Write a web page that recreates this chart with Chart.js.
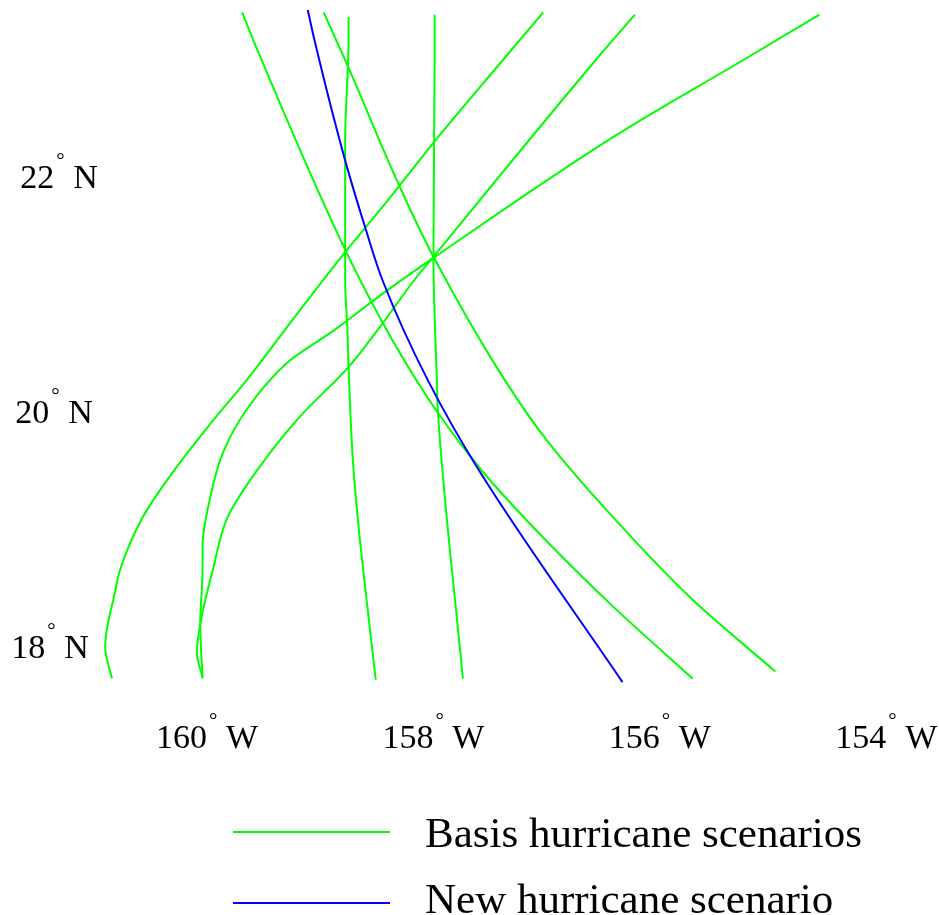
<!DOCTYPE html>
<html>
<head>
<meta charset="utf-8">
<title>Hurricane scenarios</title>
<script src="https://cdn.jsdelivr.net/npm/chart.js@4.4.1/dist/chart.umd.min.js"></script>
<style>
  html, body { margin: 0; padding: 0; background: #fff; }
  #wrap { width: 939px; height: 915px; position: relative; }
</style>
</head>
<body>
<div id="wrap"><canvas id="mapa"></canvas></div>
<script>
// ==============================
// DATA (longitude as negative = west, latitude north)
// ==============================
const lonTicks = [-160, -158, -156, -154];
const latTicks = [22, 20, 18];

const legendLabels = ["Basis hurricane scenarios", "New hurricane scenario"];

// new scenario (blue)
const newLon = [-159.11, -159.05, -158.78, -158.60, -158.45, -158.05, -157.59, -156.33];
const newLat = [23.43, 23.17, 22.15, 21.57, 21.13, 20.28, 19.50, 17.71];

// basis scenarios (green)
const basis1Lon = [-159.69, -159.59, -158.78, -158.38, -157.96, -157.59, -157.15, -156.41, -155.71];
const basis1Lat = [23.41, 23.17, 21.39, 20.65, 20.00, 19.53, 19.06, 18.35, 17.74];

const basis2Lon = [-158.97, -158.76, -158.30, -158.00, -157.37, -157.00, -156.41, -155.71, -154.98];
const basis2Lat = [23.41, 22.96, 21.93, 21.33, 20.28, 19.77, 19.11, 18.41, 17.80];

const basis3Lon = [-158.75, -158.75, -158.78, -158.78, -158.76, -158.75, -158.71, -158.66, -158.62, -158.51];
const basis3Lat = [23.37, 23.17, 22.32, 21.13, 20.71, 20.39, 19.57, 19.02, 18.66, 17.73];

const basis4Lon = [-157.99, -157.99, -158.00, -157.97, -157.96, -157.74];
const basis4Lat = [23.39, 23.00, 21.33, 20.28, 20.00, 17.74];

const basis5Lon = [-160.84, -160.90, -160.81, -160.77, -160.57, -160.33, -159.97, -159.65, -159.31, -158.78, -158.47, -158.00, -157.39, -157.03];
const basis5Lat = [17.74, 18.01, 18.49, 18.66, 19.11, 19.46, 19.91, 20.28, 20.71, 21.37, 21.73, 22.30, 23.00, 23.41];

const basis6Lon = [-160.04, -160.06, -160.04, -160.04, -159.97, -159.86, -159.65, -159.29, -158.87, -158.40, -158.00, -156.41, -155.27, -154.59];
const basis6Lat = [17.74, 18.21, 18.66, 18.86, 19.29, 19.66, 20.03, 20.43, 20.71, 21.05, 21.32, 22.35, 23.00, 23.39];

const basis7Lon = [-160.04, -160.09, -160.04, -159.95, -159.82, -159.56, -159.18, -158.76, -158.49, -158.17, -158.00, -156.57, -156.22];
const basis7Lat = [17.75, 17.96, 18.30, 18.66, 19.11, 19.51, 19.97, 20.38, 20.71, 21.13, 21.33, 23.00, 23.39];

// ==============================
// HELPERS
// ==============================
const $ = (id) => document.getElementById(id);
const GREEN = "#00ff00";
const BLUE = "#0000ff";
const SERIF = '"Liberation Serif", "Times New Roman", serif';

function pares(lons, lats){
  return lons.map((x, i) => ({ x, y: lats[i] }));
}

// tracks are monotone in latitude, so a monotone spline along y keeps them smooth
function trilha(lons, lats, cor){
  return {
    data: pares(lons, lats),
    borderColor: cor,
    borderWidth: 2,
    pointRadius: 0,
    cubicInterpolationMode: "monotone",
    fill: false
  };
}

// "160° W" with a small raised degree sign, centred on cx
function rotuloGrau(ctx, numero, letra, cx, base){
  ctx.font = `34px ${SERIF}`;
  const wNum = ctx.measureText(numero).width;
  const wLet = ctx.measureText(" " + letra).width;
  ctx.font = `21px ${SERIF}`;
  const wGrau = ctx.measureText("°").width;
  const total = wNum + 2 + wGrau + wLet;
  let x = cx - total / 2;

  ctx.textAlign = "left";
  ctx.textBaseline = "alphabetic";
  ctx.font = `34px ${SERIF}`;
  ctx.fillText(numero, x, base);
  x += wNum + 2;
  ctx.font = `21px ${SERIF}`;
  ctx.fillText("°", x, base - 21);
  x += wGrau;
  ctx.font = `34px ${SERIF}`;
  ctx.fillText(" " + letra, x, base);
}

// ==============================
// LABELS + LEGEND
// ==============================
const yLabelX = [59, 54, 50];

const rotulosPlugin = {
  id: "rotulos",
  afterDraw(chart){
    const { ctx, scales } = chart;
    ctx.save();
    ctx.fillStyle = "#000";

    lonTicks.forEach(v => {
      const px = scales.x.getPixelForValue(v);
      rotuloGrau(ctx, String(-v), "W", px, 748);
    });

    latTicks.forEach((v, i) => {
      const py = scales.y.getPixelForValue(v);
      rotuloGrau(ctx, String(v), "N", yLabelX[i], py + 10);
    });

    // legend
    const itens = [
      { cor: GREEN, y: 832, base: 847 },
      { cor: BLUE, y: 903, base: 913 }
    ];
    itens.forEach((it, i) => {
      ctx.strokeStyle = it.cor;
      ctx.lineWidth = 2;
      ctx.beginPath();
      ctx.moveTo(233, it.y);
      ctx.lineTo(390, it.y);
      ctx.stroke();
      ctx.font = `43px ${SERIF}`;
      ctx.textAlign = "left";
      ctx.textBaseline = "alphabetic";
      ctx.fillText(legendLabels[i], 425, it.base);
    });

    ctx.restore();
  }
};

// ==============================
// CHART
// ==============================
new Chart($("mapa"), {
  type: "line",
  data: {
    datasets: [
      trilha(newLon, newLat, BLUE),
      trilha(basis1Lon, basis1Lat, GREEN),
      trilha(basis2Lon, basis2Lat, GREEN),
      trilha(basis3Lon, basis3Lat, GREEN),
      trilha(basis4Lon, basis4Lat, GREEN),
      trilha(basis5Lon, basis5Lat, GREEN),
      trilha(basis6Lon, basis6Lat, GREEN),
      trilha(basis7Lon, basis7Lat, GREEN)
    ]
  },
  options: {
    indexAxis: "y",
    responsive: true,
    maintainAspectRatio: false,
    animation: false,
    layout: { padding: { left: 0, right: 0, top: 0, bottom: 155 } },
    plugins: { legend: { display: false }, tooltip: { enabled: false } },
    scales: {
      x: { type: "linear", min: -161.829, max: -153.534, display: false },
      y: { type: "linear", min: 17.047, max: 23.515, display: false }
    }
  },
  plugins: [rotulosPlugin]
});
</script>
</body>
</html>
